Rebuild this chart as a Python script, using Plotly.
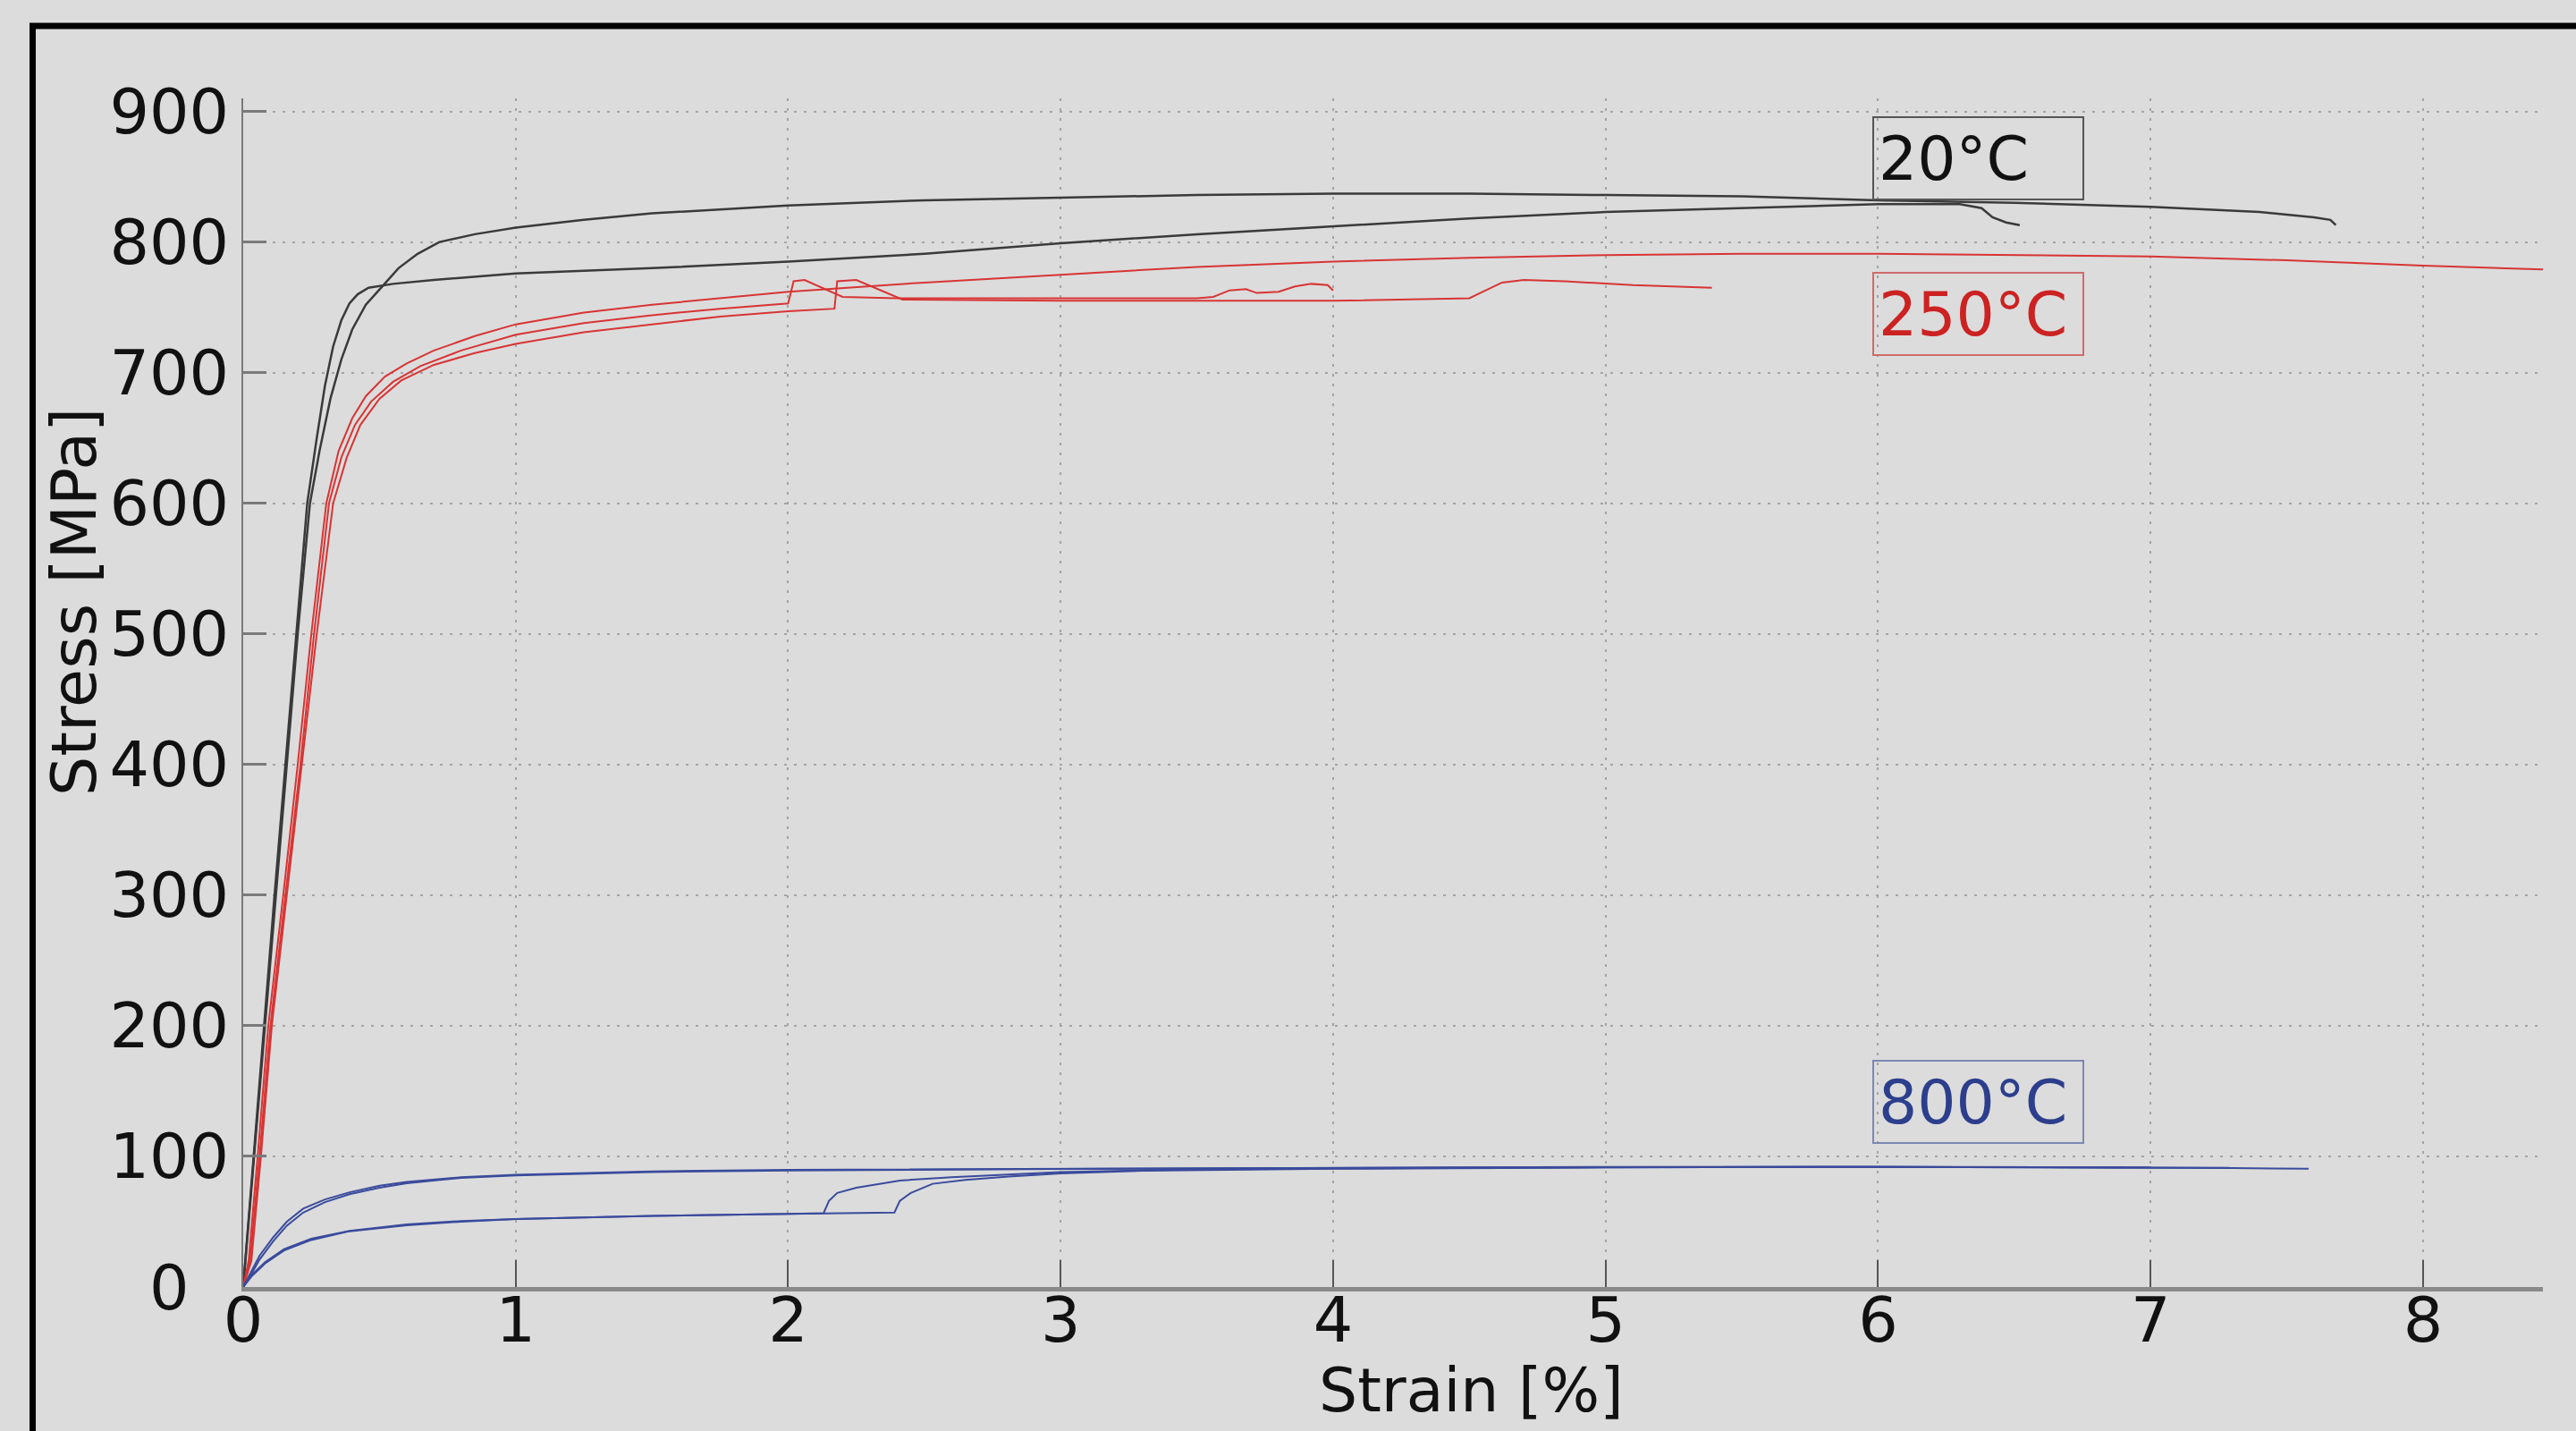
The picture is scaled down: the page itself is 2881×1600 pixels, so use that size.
import plotly.graph_objects as go

# ---------------- data ----------------
# 20 °C
strain_20a = [0, 0.04, 0.08, 0.12, 0.16, 0.20, 0.245, 0.28, 0.32, 0.36, 0.40, 0.45, 0.51, 0.57, 0.64, 0.72, 0.85,
              1.0, 1.25, 1.5, 2.0, 2.5, 3.0, 3.5, 4.0, 4.5, 5.0, 5.5, 6.0, 6.5, 7.0, 7.4, 7.6, 7.66, 7.68]
stress_20a = [0, 100, 200, 300, 400, 500, 600, 640, 680, 710, 733, 752, 766, 780, 791, 800, 806,
              811, 817, 822, 828, 832, 834, 836, 837, 837, 836, 835, 832, 830, 827, 823, 819, 817, 813]
strain_20b = [0, 0.038, 0.076, 0.115, 0.155, 0.195, 0.235, 0.27, 0.30, 0.33, 0.36, 0.39, 0.42, 0.46, 0.55, 0.7,
              1.0, 1.5, 2.0, 2.5, 3.0, 3.5, 4.0, 4.5, 5.0, 5.5, 6.0, 6.3, 6.38, 6.42, 6.47, 6.52]
stress_20b = [0, 100, 200, 300, 400, 500, 600, 650, 690, 720, 740, 753, 760, 765, 768, 771,
              776, 780, 785, 791, 799, 806, 812, 818, 823, 826, 829, 829, 826, 819, 815, 813]

# 250 °C
strain_250a = [0, 0.02, 0.053, 0.092, 0.147, 0.20, 0.25, 0.305, 0.35, 0.40, 0.45, 0.52, 0.6, 0.7, 0.85, 1.0, 1.25,
               1.5, 2.0, 2.5, 3.0, 3.5, 4.0, 4.5, 5.0, 5.5, 6.0, 6.5, 7.0, 7.5, 8.0, 8.44]
stress_250a = [0, 20, 100, 200, 300, 400, 500, 600, 640, 665, 682, 697, 707, 717, 728, 737, 746,
               752, 762, 769, 775, 781, 785, 788, 790, 791, 791, 790, 789, 786, 782, 779]
strain_250b = [0, 0.025, 0.06, 0.10, 0.155, 0.21, 0.26, 0.315, 0.36, 0.41, 0.47, 0.55, 0.65, 0.8, 1.0, 1.25, 1.5,
               1.75, 2.0, 2.02, 2.06, 2.2, 2.4, 3.0, 3.5, 3.56, 3.62, 3.68, 3.72, 3.8, 3.86, 3.92, 3.98, 4.0]
stress_250b = [0, 20, 100, 200, 300, 400, 500, 600, 635, 660, 678, 693, 705, 717, 729, 738, 744,
               749, 753, 770, 771, 758, 757, 757, 757, 758, 763, 764, 761, 762, 766, 768, 767, 763]
strain_250c = [0, 0.03, 0.065, 0.105, 0.16, 0.215, 0.27, 0.33, 0.38, 0.43, 0.5, 0.58, 0.7, 0.85, 1.0, 1.25, 1.5,
               1.75, 2.0, 2.17, 2.18, 2.25, 2.42, 3.0, 4.0, 4.5, 4.55, 4.62, 4.7, 4.85, 5.1, 5.39]
stress_250c = [0, 20, 100, 200, 300, 400, 500, 600, 635, 660, 680, 694, 706, 715, 722, 731, 737,
               743, 747, 749, 770, 771, 756, 755, 755, 757, 762, 769, 771, 770, 767, 765]

# 800 °C
strain_800a = [0, 0.03, 0.06, 0.11, 0.16, 0.22, 0.3, 0.39, 0.5, 0.6, 0.8, 1.0, 1.5, 2.0, 3.0, 4.0, 5.0, 6.0, 7.0,
               7.3, 7.58]
stress_800a = [0, 12, 24, 38, 50, 60, 67, 72.5, 77.5, 80.5, 84, 86, 88.5, 89.7, 90.6, 91.5, 92, 92, 91.5,
               91, 90.5]
strain_800b = [0, 0.03, 0.06, 0.11, 0.16, 0.22, 0.3, 0.39, 0.5, 0.6, 0.8, 1.0, 1.5, 2.0, 3.0, 4.0, 5.0, 6.0, 7.0,
               7.29]
stress_800b = [0, 10, 21, 35, 47, 57, 65, 71, 76, 79.5, 83.5, 85.5, 88, 89.2, 90.4, 91.3, 91.8, 92, 91.6, 91.2]
strain_800c = [0, 0.03, 0.08, 0.15, 0.25, 0.39, 0.6, 0.8, 1.0, 1.5, 2.0, 2.13, 2.15, 2.18, 2.25, 2.41, 2.6, 2.81,
               3.0, 3.5, 4.0, 5.0, 6.0, 6.9]
stress_800c = [0, 8, 18, 28, 36, 42.7, 47.3, 50, 52, 54.5, 56, 56.5, 66, 72, 76, 81.5, 84, 86,
               88, 90, 90.8, 91.6, 92, 91.6]
strain_800d = [0, 0.03, 0.08, 0.15, 0.25, 0.39, 0.6, 0.8, 1.0, 1.5, 2.0, 2.39, 2.41, 2.45, 2.53, 2.65, 2.81, 3.0,
               3.3, 4.0, 5.0, 6.0, 7.0]
stress_800d = [0, 9, 19, 29, 37, 43, 48, 50.5, 52, 54.5, 56, 57, 66, 72, 79, 82, 84.5, 87,
               89, 90.5, 91.5, 92, 91.5]

x_ticks = [0, 1, 2, 3, 4, 5, 6, 7, 8]
y_ticks = [0, 100, 200, 300, 400, 500, 600, 700, 800, 900]
y_ticktext = ["0\u00a0\u00a0", "100", "200", "300", "400", "500", "600", "700", "800", "900"]
labels = ["20°C", "250°C", "800°C"]
label_y = [864, 745, 142]

# ---------------- figure ----------------
BG = "#dcdcdc"
FONT = "DejaVu Sans"
fig = go.Figure()

def add(xs, ys, color, width):
    fig.add_trace(go.Scatter(x=xs, y=ys, mode="lines", line=dict(color=color, width=width),
                             showlegend=False, hoverinfo="skip"))

BLACK, RED, BLUE = "#3a3a3a", "#d83434", "#3a4b9c"
add(strain_20a, stress_20a, BLACK, 2.5)
add(strain_20b, stress_20b, BLACK, 2.5)
add(strain_250a, stress_250a, RED, 2)
add(strain_250b, stress_250b, RED, 2)
add(strain_250c, stress_250c, RED, 2)
add(strain_800a, stress_800a, BLUE, 2)
add(strain_800b, stress_800b, BLUE, 2)
add(strain_800c, stress_800c, BLUE, 2)
add(strain_800d, stress_800d, BLUE, 2)

L, R, T, B = 272, 2844, 110, 1439
W, H = 2881, 1600

fig.update_layout(
    width=W, height=H,
    margin=dict(l=L, r=W - R, t=T, b=H - B),
    paper_bgcolor=BG, plot_bgcolor=BG,
    font=dict(family=FONT, size=70, color="#111111"),
    showlegend=False,
)
fig.update_xaxes(
    range=[0, 8.44], tickvals=x_ticks, ticktext=[str(v) for v in x_ticks],
    showgrid=True, gridcolor="#a4a4a4", gridwidth=2, griddash="3px,8px",
    zeroline=False, showline=True, linecolor="#8a8a8a", linewidth=5,
    ticks="inside", ticklen=30, tickwidth=2, tickcolor="#555555",
    ticklabelstandoff=-28,
    tickfont=dict(family=FONT, size=70, color="#111111"),
)
fig.update_yaxes(
    range=[0, 910], tickvals=y_ticks, ticktext=y_ticktext,
    showgrid=True, gridcolor="#a4a4a4", gridwidth=2, griddash="3px,8px",
    zeroline=False, showline=True, linecolor="#7a7a7a", linewidth=2,
    ticks="inside", ticklen=26, tickwidth=3, tickcolor="#7a7a7a",
    tickfont=dict(family=FONT, size=70, color="#111111"),
)

def px_x(p):
    return (p - L) / (R - L)

def px_y(p):
    return (B - p) / (B - T)

# axis titles
fig.add_annotation(text="Strain [%]", xref="paper", yref="paper", x=px_x(1645), y=px_y(1554),
                   xanchor="center", yanchor="middle", showarrow=False,
                   font=dict(family=FONT, size=68, color="#111111"))
fig.add_annotation(text="Stress [MPa]", xref="paper", yref="paper", x=px_x(83), y=px_y(673),
                   xanchor="center", yanchor="middle", showarrow=False, textangle=-90,
                   font=dict(family=FONT, size=70, color="#111111"))

# temperature labels
label_font_colors = ["#111111", "#cc2222", "#2c3e8c"]
label_border_colors = ["#555555", "#d06a6a", "#7c88b4"]
for txt, yv, fc, bc in zip(labels, label_y, label_font_colors, label_border_colors):
    fig.add_annotation(text=txt, x=5.98, y=yv, xref="x", yref="y", xanchor="left", yanchor="middle",
                       showarrow=False, align="left", width=223, height=80,
                       bordercolor=bc, borderwidth=2, borderpad=5, bgcolor="rgba(0,0,0,0)",
                       font=dict(family=FONT, size=68, color=fc))

# outer black frame (left and top edges visible)
fig.add_shape(type="rect", xref="paper", yref="paper",
              x0=px_x(36.5), x1=px_x(3100), y0=px_y(1800), y1=px_y(29),
              line=dict(color="black", width=7), fillcolor="rgba(0,0,0,0)", layer="above")

fig.write_html("out.html")
